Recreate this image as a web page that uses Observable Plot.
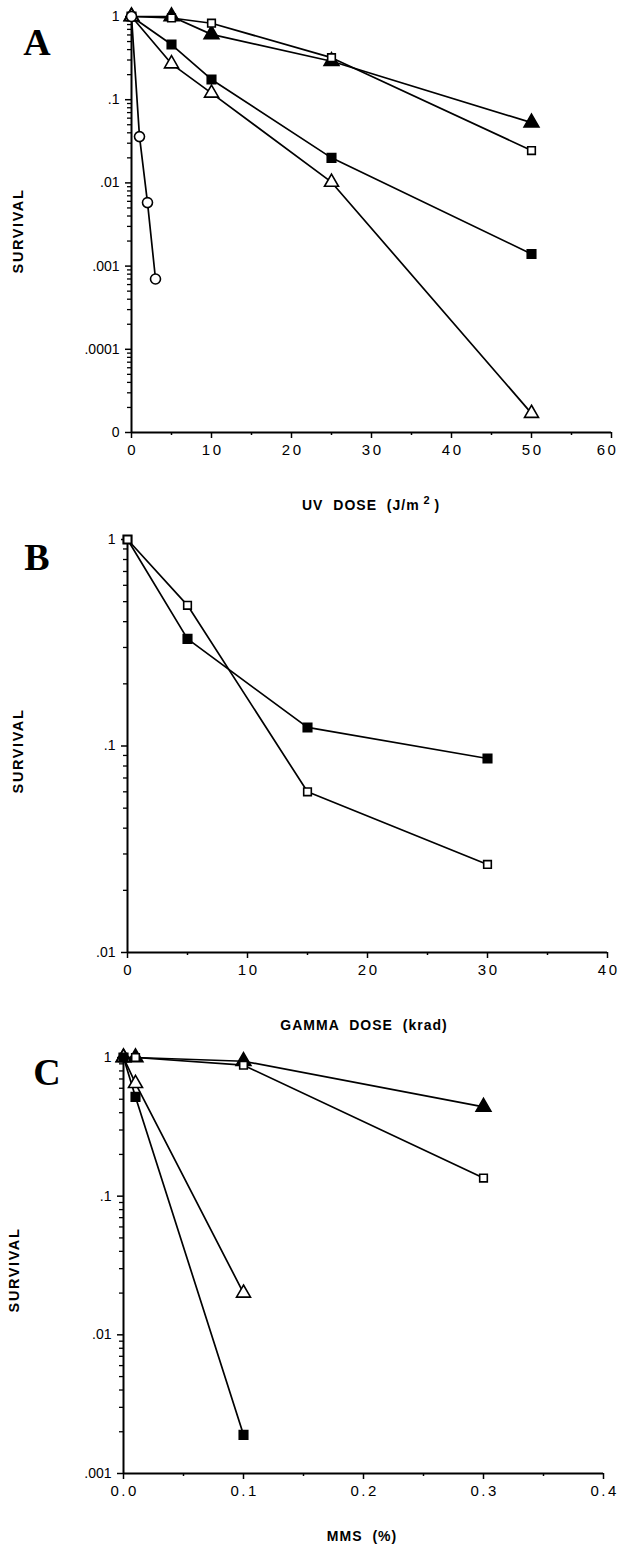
<!DOCTYPE html>
<html><head><meta charset="utf-8">
<script src="https://cdn.jsdelivr.net/npm/d3@7"></script>
<script src="https://cdn.jsdelivr.net/npm/@observablehq/plot@0.6"></script>
<style>
body{margin:0;background:#fff;}
#wrap{position:relative;width:619px;height:1549px;overflow:hidden;font-family:"Liberation Sans",Arial,Helvetica,sans-serif;background:#fff;}
.panel{position:absolute;left:0;}
.letter{position:absolute;font-family:"Liberation Serif","Times New Roman",serif;font-weight:bold;font-size:38px;line-height:1;transform:translate(-50%,-50%);}
.xlab{position:absolute;font-weight:bold;font-size:14px;letter-spacing:1px;word-spacing:5px;transform:translate(-50%,-50%);white-space:pre;line-height:1;}
.xlab sup{font-size:11px;position:relative;top:-3px;vertical-align:top;}
.ylab{position:absolute;font-weight:bold;font-size:14.5px;letter-spacing:1.6px;transform:translate(-50%,-50%) rotate(-90deg);line-height:1;}
</style></head>
<body><div id="wrap"></div>
<script>
// ---------- Panel A: UV dose ----------
const uvDose = [0, 5, 10, 25, 50];
const uvClosedTriangle = [1, 1.0, 0.61, 0.29, 0.053];
const uvOpenSquare = [1, 0.96, 0.83, 0.32, 0.0245];
const uvClosedSquare = [1, 0.46, 0.175, 0.020, 0.0014];
const uvOpenTriangle = [1, 0.27, 0.12, 0.0102, 0.000017];
const uvCircleDose = [0, 1, 2, 3];
const uvOpenCircle = [1, 0.036, 0.0058, 0.0007];
const uvXTicks = [0, 10, 20, 30, 40, 50, 60];
const uvXMinor = [5, 15, 25, 35, 45, 55];
const uvYTicks = [1, 0.1, 0.01, 0.001, 0.0001, 0.00001];
const uvYLabels = ["1", ".1", ".01", ".001", ".0001", "0"];

// ---------- Panel B: gamma dose ----------
const gammaDose = [0, 5, 15, 30];
const gammaClosedSquare = [1, 0.33, 0.123, 0.087];
const gammaOpenSquare = [1, 0.48, 0.060, 0.0267];
const gammaXTicks = [0, 10, 20, 30, 40];
const gammaXMinor = [5, 15, 25, 35];
const gammaYTicks = [1, 0.1, 0.01];
const gammaYLabels = ["1", ".1", ".01"];

// ---------- Panel C: MMS ----------
const mmsDoseLong = [0, 0.01, 0.1, 0.3];
const mmsClosedTriangle = [1, 1.0, 0.94, 0.44];
const mmsOpenSquare = [1, 1.0, 0.88, 0.135];
const mmsDoseShort = [0, 0.01, 0.1];
const mmsOpenTriangle = [1, 0.65, 0.020];
const mmsClosedSquare = [1, 0.52, 0.0019];
const mmsXTicks = [0, 0.1, 0.2, 0.3, 0.4];
const mmsXLabels = ["0.0", "0.1", "0.2", "0.3", "0.4"];
const mmsXMinor = [0.05, 0.15, 0.25, 0.35];
const mmsYTicks = [1, 0.1, 0.01, 0.001];
const mmsYLabels = ["1", ".1", ".01", ".001"];

const STYLE = {
  openCircle: {symbol: "circle", fill: "white", r: 5},
  openSquare: {symbol: "square", fill: "white", r: 4.3},
  closedSquare: {symbol: "square", fill: "black", r: 4.8},
  openTriangle: {symbol: "triangle", fill: "white", r: 5.2},
  closedTriangle: {symbol: "triangle", fill: "black", r: 5.5}
};

function rows(xs, ys) { return xs.map((x, i) => ({x, y: ys[i]})); }

function makePanel(cfg) {
  const yMinor = d3.scaleLog().domain(cfg.yDomain).ticks()
    .filter(v => !cfg.yTicks.some(t => Math.abs(Math.log10(v) - Math.log10(t)) < 1e-6));
  const marks = [
    Plot.axisY({ticks: yMinor, tickSize: 4, tickFormat: () => "", strokeWidth: 1.3, label: null}),
    Plot.axisY({ticks: cfg.yTicks, tickSize: 6, tickPadding: 6, fontSize: 14, strokeWidth: 1.5,
      tickFormat: d => cfg.yLabels[cfg.yTicks.findIndex(t => Math.abs(t - d) < t * 1e-6)], label: null}),
    Plot.axisX({ticks: cfg.xMinor, tickSize: 3, tickFormat: () => "", strokeWidth: 1.5, label: null}),
    Plot.axisX({ticks: cfg.xTicks, tickSize: 6, tickPadding: 6, fontSize: 15, strokeWidth: 1.5,
      tickFormat: d => cfg.xLabels ? cfg.xLabels[cfg.xTicks.findIndex(t => Math.abs(t - d) < 1e-9)] : String(d), label: null}),
    Plot.ruleX([cfg.xDomain[0]], {stroke: "black", strokeWidth: 2}),
    Plot.ruleY([cfg.yDomain[0]], {stroke: "black", strokeWidth: 2})
  ];
  for (const s of cfg.series) {
    marks.push(Plot.line(rows(s.x, s.y), {x: "x", y: "y", stroke: "black", strokeWidth: 1.7}));
  }
  for (const s of cfg.series) {
    const st = STYLE[s.kind];
    marks.push(Plot.dot(rows(s.x, s.y), {x: "x", y: "y", symbol: st.symbol, r: st.r, fill: st.fill, stroke: "black", strokeWidth: 1.6}));
  }
  const svg = Plot.plot({
    width: 619,
    height: cfg.plotH + 16 + 40,
    marginTop: 16,
    marginBottom: 40,
    marginLeft: cfg.mLeft,
    marginRight: 619 - cfg.xRight,
    style: {fontFamily: "'Liberation Sans', Arial, Helvetica, sans-serif", fontSize: "14px", background: "white", color: "black"},
    x: {domain: cfg.xDomain},
    y: {type: "log", domain: cfg.yDomain},
    marks
  });
  svg.querySelectorAll('[aria-label="y-axis tick label"]').forEach(g => {
    g.setAttribute("font-size", "14");
    g.style.fontSize = "14px";
  });
  svg.querySelectorAll('[aria-label="x-axis tick label"]').forEach(g => {
    g.setAttribute("font-size", "15");
    g.style.fontSize = "15px";
    g.setAttribute("letter-spacing", "2.5");
    const texts = g.querySelectorAll("text");
    texts.forEach(t => t.setAttribute("dx", "1.2"));
    if (cfg.lastLabelShift && texts.length) texts[texts.length - 1].setAttribute("dx", String(cfg.lastLabelShift));
  });
  const div = document.createElement("div");
  div.className = "panel";
  div.style.top = (cfg.plotTop - 16) + "px";
  div.appendChild(svg);
  document.getElementById("wrap").appendChild(div);
}

function addLabel(cls, html, x, y) {
  const el = document.createElement("div");
  el.className = cls;
  el.innerHTML = html;
  el.style.left = x + "px";
  el.style.top = y + "px";
  document.getElementById("wrap").appendChild(el);
}

makePanel({
  plotTop: 16, plotH: 416, mLeft: 131, xRight: 611, lastLabelShift: -4,
  xDomain: [0, 60], yDomain: [0.00001, 1],
  xTicks: uvXTicks, xMinor: uvXMinor, yTicks: uvYTicks, yLabels: uvYLabels,
  series: [
    {x: uvDose, y: uvClosedTriangle, kind: "closedTriangle"},
    {x: uvDose, y: uvOpenSquare, kind: "openSquare"},
    {x: uvDose, y: uvClosedSquare, kind: "closedSquare"},
    {x: uvDose, y: uvOpenTriangle, kind: "openTriangle"},
    {x: uvCircleDose, y: uvOpenCircle, kind: "openCircle"}
  ]
});
makePanel({
  plotTop: 539, plotH: 413, mLeft: 127, xRight: 607,
  xDomain: [0, 40], yDomain: [0.01, 1],
  xTicks: gammaXTicks, xMinor: gammaXMinor, yTicks: gammaYTicks, yLabels: gammaYLabels,
  series: [
    {x: gammaDose, y: gammaClosedSquare, kind: "closedSquare"},
    {x: gammaDose, y: gammaOpenSquare, kind: "openSquare"}
  ]
});
makePanel({
  plotTop: 1057, plotH: 416, mLeft: 123, xRight: 603,
  xDomain: [0, 0.4], yDomain: [0.001, 1],
  xTicks: mmsXTicks, xLabels: mmsXLabels, xMinor: mmsXMinor, yTicks: mmsYTicks, yLabels: mmsYLabels,
  series: [
    {x: mmsDoseLong, y: mmsClosedTriangle, kind: "closedTriangle"},
    {x: mmsDoseLong, y: mmsOpenSquare, kind: "openSquare"},
    {x: mmsDoseShort, y: mmsOpenTriangle, kind: "openTriangle"},
    {x: mmsDoseShort, y: mmsClosedSquare, kind: "closedSquare"}
  ]
});

addLabel("letter", "A", 37, 42);
addLabel("letter", "B", 37, 557);
addLabel("letter", "C", 47, 1072);
addLabel("ylab", "SURVIVAL", 18, 231);
addLabel("ylab", "SURVIVAL", 18, 751);
addLabel("ylab", "SURVIVAL", 14, 1270);
addLabel("xlab", "UV DOSE (J/m&thinsp;<sup>2</sup>&thinsp;)", 371, 505);
addLabel("xlab", "GAMMA DOSE (krad)", 364, 1025);
addLabel("xlab", "MMS (%)", 362, 1536);
</script></body></html>
